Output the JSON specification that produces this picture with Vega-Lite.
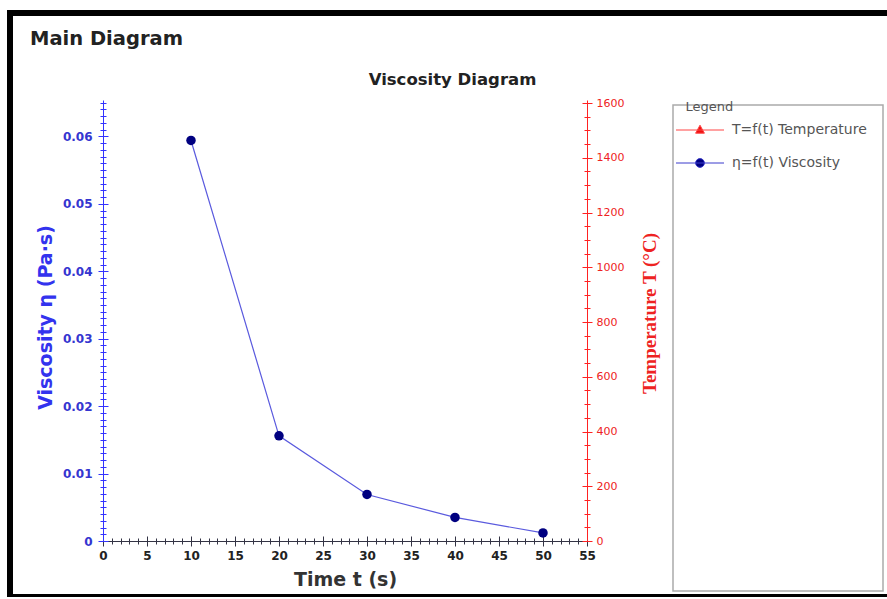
{
  "$schema": "https://vega.github.io/schema/vega-lite/v6.json",
  "width": 884,
  "height": 584,
  "autosize": {"type": "none"},
  "padding": {"left": 10, "top": 13, "right": -7, "bottom": 0},
  "background": "white",
  "config": {
    "font": "DejaVu Sans",
    "view": {"stroke": "black", "strokeWidth": 6},
    "axis": {"grid": false, "domainWidth": 1, "tickWidth": 1, "labelOverlap": false, "labelFlush": false, "labelBound": false}
  },
  "title": {
    "text": "Main Diagram",
    "anchor": "start",
    "frame": "group",
    "offset": -36,
    "dx": 20,
    "font": "DejaVu Sans",
    "fontSize": 19.5,
    "fontWeight": "bold",
    "color": "#222222"
  },
  "datasets": {
    "visc": [
      {"t": 10, "eta": 0.0594, "series": "η=f(t) Viscosity"},
      {"t": 20, "eta": 0.0156, "series": "η=f(t) Viscosity"},
      {"t": 30, "eta": 0.0069, "series": "η=f(t) Viscosity"},
      {"t": 40, "eta": 0.0035, "series": "η=f(t) Viscosity"},
      {"t": 50, "eta": 0.0012, "series": "η=f(t) Viscosity"}
    ]
  },
  "layer": [
    {
      "data": {"name": "visc"},
      "encoding": {
        "x": {
          "field": "t",
          "type": "quantitative",
          "scale": {"domain": [0, 55], "range": [93, 577], "nice": false, "zero": false},
          "axis": {
            "orient": "bottom",
            "offset": -56,
            "values": [0,1,2,3,4,5,6,7,8,9,10,11,12,13,14,15,16,17,18,19,20,21,22,23,24,25,26,27,28,29,30,31,32,33,34,35,36,37,38,39,40,41,42,43,44,45,46,47,48,49,50,51,52,53,54,55],
            "labelExpr": "datum.value % 5 === 0 ? format(datum.value, 'd') : ''",
            "tickSize": {"condition": {"test": "datum.value % 5 === 0", "value": 5}, "value": 3},
            "domainColor": "#333344",
            "tickColor": "#333344",
            "labelColor": "#222222",
            "labelFont": "DejaVu Sans",
            "labelFontSize": 12,
            "labelFontWeight": "bold",
            "labelPadding": 4,
            "title": "Time t (s)",
            "titleFont": "DejaVu Sans",
            "titleFontSize": 19,
            "titleFontWeight": "bold",
            "titleColor": "#333333",
            "titleBaseline": "alphabetic",
            "titleY": 44
          }
        },
        "y": {
          "field": "eta",
          "type": "quantitative",
          "scale": {"domain": [0, 0.0654], "range": [528, 87], "nice": false, "zero": true},
          "axis": {
            "orient": "left",
            "offset": -93,
            "values": [0,0.001,0.002,0.003,0.004,0.005,0.006,0.007,0.008,0.009,0.01,0.011,0.012,0.013,0.014,0.015,0.016,0.017,0.018,0.019,0.02,0.021,0.022,0.023,0.024,0.025,0.026,0.027,0.028,0.029,0.03,0.031,0.032,0.033,0.034,0.035,0.036,0.037,0.038,0.039,0.04,0.041,0.042,0.043,0.044,0.045,0.046,0.047,0.048,0.049,0.05,0.051,0.052,0.053,0.054,0.055,0.056,0.057,0.058,0.059,0.06,0.061,0.062,0.063,0.064,0.065],
            "labelExpr": "round(datum.value * 1000) % 10 === 0 ? (datum.value === 0 ? '0' : format(datum.value, '.2f')) : ''",
            "tickSize": {"condition": {"test": "round(datum.value * 1000) % 10 === 0", "value": 5}, "value": 3},
            "domainColor": "#3333ff",
            "tickColor": "#3333ff",
            "labelColor": "#3535d0",
            "labelFont": "DejaVu Sans",
            "labelFontSize": 12,
            "labelFontWeight": "bold",
            "labelPadding": 6,
            "title": "Viscosity η (Pa·s)",
            "titleFont": "DejaVu Sans",
            "titleFontSize": 19,
            "titleFontWeight": "bold",
            "titleColor": "#3333ee",
            "titleAngle": 270,
            "titleBaseline": "middle",
            "titleAlign": "center",
            "titleX": -58,
            "titleY": 304
          }
        }
      },
      "layer": [
        {
          "mark": {"type": "line", "color": "#5a5ade", "strokeWidth": 1.2}
        },
        {
          "mark": {"type": "point", "filled": true, "size": 90, "opacity": 1, "color": "#000080"}
        }
      ]
    },
    {
      "data": {"values": []},
      "mark": {"type": "point", "filled": true, "opacity": 1},
      "encoding": {
        "x": {
          "field": "t",
          "type": "quantitative",
          "scale": {"domain": [0, 55], "range": [93, 577], "nice": false, "zero": false},
          "axis": {
            "orient": "bottom",
            "offset": -56,
            "values": [0,1,2,3,4,5,6,7,8,9,10,11,12,13,14,15,16,17,18,19,20,21,22,23,24,25,26,27,28,29,30,31,32,33,34,35,36,37,38,39,40,41,42,43,44,45,46,47,48,49,50,51,52,53,54,55],
            "labels": false,
            "domain": false,
            "title": null,
            "tickSize": {"condition": {"test": "datum.value % 5 === 0", "value": -5}, "value": -3},
            "tickColor": "#333344"
          }
        },
        "y": {
          "field": "eta",
          "type": "quantitative",
          "scale": {"domain": [0, 0.0654], "range": [528, 87], "nice": false, "zero": true},
          "axis": {
            "orient": "left",
            "offset": -93,
            "values": [0,0.001,0.002,0.003,0.004,0.005,0.006,0.007,0.008,0.009,0.01,0.011,0.012,0.013,0.014,0.015,0.016,0.017,0.018,0.019,0.02,0.021,0.022,0.023,0.024,0.025,0.026,0.027,0.028,0.029,0.03,0.031,0.032,0.033,0.034,0.035,0.036,0.037,0.038,0.039,0.04,0.041,0.042,0.043,0.044,0.045,0.046,0.047,0.048,0.049,0.05,0.051,0.052,0.053,0.054,0.055,0.056,0.057,0.058,0.059,0.06,0.061,0.062,0.063,0.064,0.065],
            "labels": false,
            "domain": false,
            "title": null,
            "tickSize": {"condition": {"test": "round(datum.value * 1000) % 10 === 0", "value": -5}, "value": -3},
            "tickColor": "#3333ff"
          }
        },
        "color": {
          "field": "eta",
          "type": "quantitative",
          "scale": {"domain": [0, 1], "range": ["rgba(255,255,255,0)", "rgba(255,255,255,0)"]},
          "legend": {
            "orient": "none",
            "legendX": 663,
            "legendY": 92,
            "padding": 0,
            "direction": "vertical",
            "title": null,
            "gradientLength": 486,
            "gradientThickness": 210,
            "gradientStrokeColor": "#aaaaaa",
            "gradientStrokeWidth": 1.5,
            "labelOpacity": 0,
            "labelExpr": "''"
          }
        }
      }
    },
    {
      "data": {"values": []},
      "mark": {"type": "point", "filled": true, "opacity": 1},
      "encoding": {
        "x": {
          "field": "t",
          "type": "quantitative",
          "scale": {"domain": [0, 55], "range": [93, 577], "nice": false, "zero": false},
          "axis": null
        },
        "y": {
          "field": "temp2",
          "type": "quantitative",
          "scale": {"domain": [0, 1611], "range": [528, 87], "nice": false, "zero": true},
          "axis": {
            "orient": "right",
            "offset": -307,
            "values": [0,50,100,150,200,250,300,350,400,450,500,550,600,650,700,750,800,850,900,950,1000,1050,1100,1150,1200,1250,1300,1350,1400,1450,1500,1550,1600],
            "labels": false,
            "domain": false,
            "title": null,
            "tickSize": {"condition": {"test": "datum.value % 200 === 0", "value": -5}, "value": -3},
            "tickColor": "#ff2222"
          }
        }
      }
    },
    {
      "data": {"values": []},
      "mark": {"type": "point", "filled": true, "opacity": 1, "strokeWidth": 1, "size": 64},
      "encoding": {
        "x": {
          "field": "t",
          "type": "quantitative",
          "scale": {"domain": [0, 55], "range": [93, 577], "nice": false, "zero": false},
          "axis": {
            "orient": "top",
            "offset": 0,
            "domain": false,
            "ticks": false,
            "labels": false,
            "title": "Viscosity Diagram",
            "titleFont": "DejaVu Sans",
            "titleFontSize": 16.5,
            "titleFontWeight": "bold",
            "titleColor": "#222222",
            "titleBaseline": "alphabetic",
            "titleAlign": "center",
            "titleX": 442,
            "titleY": 71
          }
        },
        "y": {
          "field": "temp",
          "type": "quantitative",
          "scale": {"domain": [0, 1611], "range": [528, 87], "nice": false, "zero": true},
          "axis": {
            "orient": "right",
            "offset": -307,
            "values": [0,50,100,150,200,250,300,350,400,450,500,550,600,650,700,750,800,850,900,950,1000,1050,1100,1150,1200,1250,1300,1350,1400,1450,1500,1550,1600],
            "labelExpr": "datum.value % 200 === 0 ? format(datum.value, 'd') : ''",
            "tickSize": {"condition": {"test": "datum.value % 200 === 0", "value": 5}, "value": 3},
            "domainColor": "#ff2222",
            "tickColor": "#ff2222",
            "labelColor": "#ee2222",
            "labelFont": "DejaVu Sans",
            "labelFontSize": 11,
            "labelPadding": 4,
            "title": "Temperature T (°C)",
            "titleFont": "Liberation Serif",
            "titleFontSize": 19,
            "titleFontWeight": "bold",
            "titleColor": "#ee2222",
            "titleAngle": 270,
            "titleBaseline": "middle",
            "titleAlign": "center",
            "titleX": 62,
            "titleY": 300
          }
        },
        "fill": {
          "field": "series",
          "type": "nominal",
          "scale": {"domain": ["T=f(t) Temperature", "η=f(t) Viscosity"], "range": ["#ee1111", "#000080"]},
          "legend": {
            "orient": "none",
            "legendX": 663,
            "legendY": 88,
            "padding": 0,
            "title": "\u200b\u00a0\u00a0\u00a0Legend",
            "titleFont": "DejaVu Sans",
            "titleFontSize": 13,
            "titleFontWeight": "normal",
            "titleColor": "#555555",
            "titlePadding": 9,
            "labelFont": "DejaVu Sans",
            "labelFontSize": 14,
            "labelColor": "#555555",
            "labelLimit": 300,
            "rowPadding": 19,
            "symbolSize": 64,
            "symbolStrokeWidth": 1,
            "symbolOffset": 20,
            "labelOffset": 25
          }
        },
        "stroke": {
          "field": "series",
          "type": "nominal",
          "scale": {"domain": ["T=f(t) Temperature", "η=f(t) Viscosity"], "range": ["#ff4444", "#3a3acc"]},
          "legend": {
            "orient": "none",
            "legendX": 663,
            "legendY": 88,
            "padding": 0,
            "title": "\u200b\u00a0\u00a0\u00a0Legend",
            "titleFont": "DejaVu Sans",
            "titleFontSize": 13,
            "titleFontWeight": "normal",
            "titleColor": "#555555",
            "titlePadding": 9,
            "labelFont": "DejaVu Sans",
            "labelFontSize": 14,
            "labelColor": "#555555",
            "labelLimit": 300,
            "rowPadding": 19,
            "symbolSize": 64,
            "symbolStrokeWidth": 1,
            "symbolOffset": 20,
            "labelOffset": 25
          }
        },
        "shape": {
          "field": "series",
          "type": "nominal",
          "scale": {"domain": ["T=f(t) Temperature", "η=f(t) Viscosity"], "range": ["M-6,0H6M0,-1.2L1.1,0.8H-1.1Z", "M-6,0H6M1.1,0A1.1,1.1,0,1,1,-1.1,0A1.1,1.1,0,1,1,1.1,0Z"]},
          "legend": {
            "orient": "none",
            "legendX": 663,
            "legendY": 88,
            "padding": 0,
            "title": "\u200b\u00a0\u00a0\u00a0Legend",
            "titleFont": "DejaVu Sans",
            "titleFontSize": 13,
            "titleFontWeight": "normal",
            "titleColor": "#555555",
            "titlePadding": 9,
            "labelFont": "DejaVu Sans",
            "labelFontSize": 14,
            "labelColor": "#555555",
            "labelLimit": 300,
            "rowPadding": 19,
            "symbolSize": 64,
            "symbolStrokeWidth": 1,
            "symbolOffset": 20,
            "labelOffset": 25
          }
        }
      }
    }
  ],
  "resolve": {"scale": {"y": "independent"}, "axis": {"x": "independent", "y": "independent"}}
}
